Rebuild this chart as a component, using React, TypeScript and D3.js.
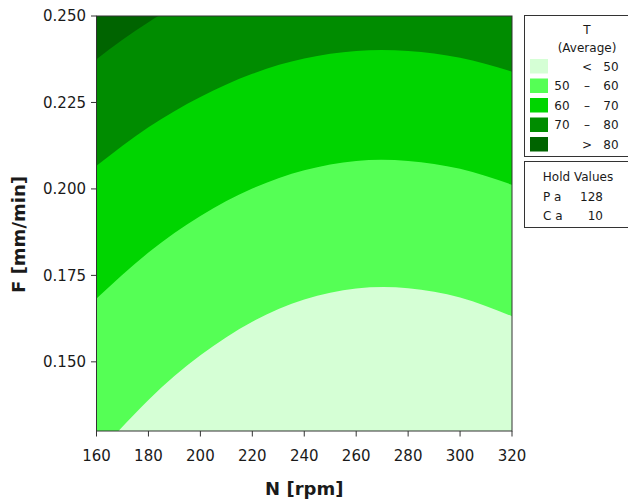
import { useEffect, useRef } from "react";
import * as d3 from "d3";

// contour boundaries (N in rpm, F in mm/min)
const nGrid = [160, 180, 200, 220, 240, 260, 280, 300, 320];
const f50 = [0.123, 0.139, 0.1519, 0.1616, 0.168, 0.1712, 0.1713, 0.1686, 0.1632];
const f60 = [0.1683, 0.1816, 0.1922, 0.2001, 0.2054, 0.2081, 0.2081, 0.2058, 0.2012];
const f70 = [0.2067, 0.2178, 0.2266, 0.2333, 0.2377, 0.2399, 0.2399, 0.2379, 0.2339];
const n80 = [160, 170, 180, 190, 200];
const f80 = [0.2375, 0.2431, 0.2482, 0.2528, 0.2568];

const xTicks = [160, 180, 200, 220, 240, 260, 280, 300, 320];
const yTicks = [0.15, 0.175, 0.2, 0.225, 0.25];

const bandColors = ["#d5ffd5", "#55ff55", "#00d500", "#008c00", "#006400"];
const legendLow = ["", "50", "60", "70", ""];
const legendSign = ["<", "\u2013", "\u2013", "\u2013", ">"];
const legendHigh = ["50", "60", "70", "80", "80"];

const holdNames = ["P a", "C a"];
const holdValues = ["128", "10"];

export default function App() {
	const ref = useRef<SVGSVGElement>(null);

	useEffect(() => {
		const svg = d3.select(ref.current);
		svg.selectAll("*").remove();

		const W = 628;
		const H = 503;
		const left = 96.5;
		const right = 512;
		const top = 16;
		const bottom = 431;
		const font = "DejaVu Sans, Verdana, sans-serif";

		svg.append("rect").attr("width", W).attr("height", H).attr("fill", "#fff");

		const x = d3.scaleLinear().domain([160, 320]).range([left, right]);
		const y = d3.scaleLinear().domain([0.13, 0.25]).range([bottom, top]);

		svg
			.append("clipPath")
			.attr("id", "plotclip")
			.append("rect")
			.attr("x", left)
			.attr("y", top)
			.attr("width", right - left)
			.attr("height", bottom - top);

		const plot = svg.append("g").attr("clip-path", "url(#plotclip)");

		// base: 70-80 band
		plot
			.append("rect")
			.attr("x", left)
			.attr("y", top)
			.attr("width", right - left)
			.attr("height", bottom - top)
			.attr("fill", bandColors[3]);

		// > 80 region: top-left corner
		const topArea = d3
			.area<number>()
			.x((d, i) => x(n80[i]))
			.y0(y(0.25) - 5)
			.y1((d) => y(d))
			.curve(d3.curveNatural);
		plot.append("path").attr("d", topArea(f80)).attr("fill", bandColors[4]);

		// lower bands painted from the bottom up
		const lowArea = d3
			.area<number>()
			.x((d, i) => x(nGrid[i]))
			.y0(bottom + 5)
			.y1((d) => y(d))
			.curve(d3.curveNatural);

		[f70, f60, f50].forEach((line, k) => {
			plot
				.append("path")
				.attr("d", lowArea(line))
				.attr("fill", bandColors[2 - k]);
		});

		// frame
		svg
			.append("rect")
			.attr("x", left)
			.attr("y", top)
			.attr("width", right - left)
			.attr("height", bottom - top)
			.attr("fill", "none")
			.attr("stroke", "#333")
			.attr("stroke-width", 1);

		// x axis
		const xAxis = svg.append("g");
		xTicks.forEach((t) => {
			xAxis
				.append("line")
				.attr("x1", x(t))
				.attr("x2", x(t))
				.attr("y1", bottom)
				.attr("y2", bottom + 5.5)
				.attr("stroke", "#333");
			xAxis
				.append("text")
				.attr("x", x(t))
				.attr("y", 460.5)
				.attr("text-anchor", "middle")
				.attr("font-family", font)
				.attr("font-size", 15)
				.attr("fill", "#1a1a1a")
				.text(t);
		});

		// y axis
		const yAxis = svg.append("g");
		yTicks.forEach((t) => {
			yAxis
				.append("line")
				.attr("x1", left - 5.5)
				.attr("x2", left)
				.attr("y1", y(t))
				.attr("y2", y(t))
				.attr("stroke", "#333");
			yAxis
				.append("text")
				.attr("x", 86)
				.attr("y", y(t))
				.attr("dy", "0.36em")
				.attr("text-anchor", "end")
				.attr("font-family", font)
				.attr("font-size", 15)
				.attr("fill", "#1a1a1a")
				.text(d3.format(".3f")(t));
		});

		// axis titles
		svg
			.append("text")
			.attr("x", (left + right) / 2)
			.attr("y", 495)
			.attr("text-anchor", "middle")
			.attr("font-family", font)
			.attr("font-weight", "bold")
			.attr("font-size", 18)
			.attr("fill", "#1a1a1a")
			.text("N [rpm]");

		svg
			.append("text")
			.attr("transform", `translate(25,${(top + bottom) / 2 + 11}) rotate(-90)`)
			.attr("text-anchor", "middle")
			.attr("font-family", font)
			.attr("font-weight", "bold")
			.attr("font-size", 18)
			.attr("fill", "#1a1a1a")
			.text("F [mm/min]");

		// legend
		const lg = svg.append("g").attr("font-family", font).attr("font-size", 12).attr("fill", "#1a1a1a");
		lg.append("rect")
			.attr("x", 524.5)
			.attr("y", 15.5)
			.attr("width", 120)
			.attr("height", 141)
			.attr("fill", "#fff")
			.attr("stroke", "#333");
		lg.append("text").attr("x", 587).attr("y", 34).attr("text-anchor", "middle").text("T");
		lg.append("text").attr("x", 587).attr("y", 52).attr("text-anchor", "middle").text("(Average)");

		bandColors.forEach((c, i) => {
			const ry = 59 + i * 19.5;
			lg.append("rect")
				.attr("x", 530)
				.attr("y", ry)
				.attr("width", 18)
				.attr("height", 14.5)
				.attr("fill", c);
			const ty = ry + 11.5;
			lg.append("text").attr("x", 562).attr("y", ty).attr("text-anchor", "middle").text(legendLow[i]);
			lg.append("text").attr("x", 587).attr("y", ty).attr("text-anchor", "middle").text(legendSign[i]);
			lg.append("text").attr("x", 611).attr("y", ty).attr("text-anchor", "middle").text(legendHigh[i]);
		});

		// hold values box
		const hv = svg.append("g").attr("font-family", font).attr("font-size", 12).attr("fill", "#1a1a1a");
		hv.append("rect")
			.attr("x", 524.5)
			.attr("y", 161.5)
			.attr("width", 120)
			.attr("height", 66)
			.attr("fill", "#fff")
			.attr("stroke", "#333");
		hv.append("text").attr("x", 578).attr("y", 181).attr("text-anchor", "middle").text("Hold Values");
		holdNames.forEach((name, i) => {
			const ty = 201 + i * 18.5;
			hv.append("text").attr("x", 543).attr("y", ty).text(name);
			hv.append("text").attr("x", 603).attr("y", ty).attr("text-anchor", "end").text(holdValues[i]);
		});
	}, []);

	return (
		<div style={{ position: "absolute", left: 0, top: 0 }}>
			<svg ref={ref} width={628} height={503} style={{ display: "block" }} />
		</div>
	);
}
